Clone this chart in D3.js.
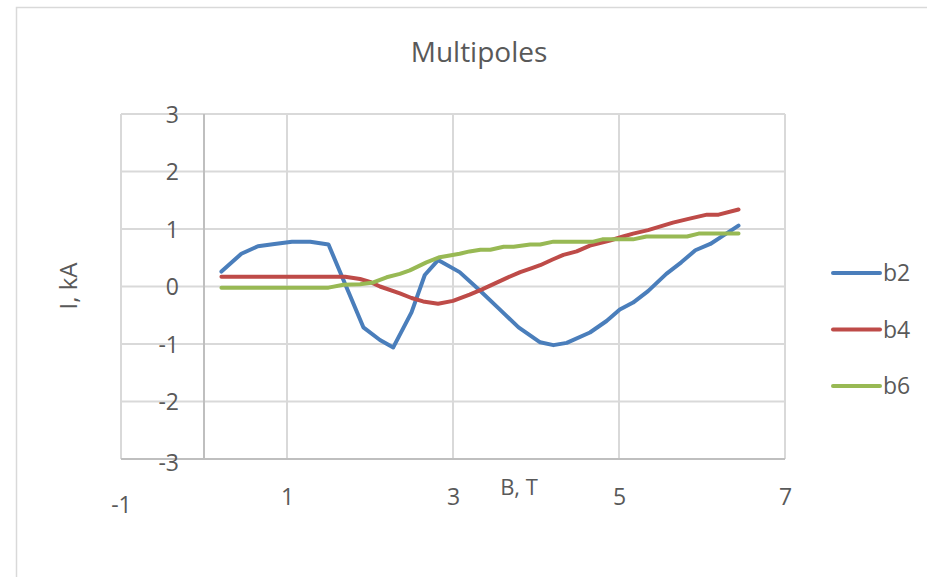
<!DOCTYPE html>
<html>
<head>
<meta charset="utf-8">
<script src="https://cdnjs.cloudflare.com/ajax/libs/d3/7.8.5/d3.min.js"></script>
<style>
  html, body { margin: 0; padding: 0; background: #fff; }
  svg { display: block; font-family: "Open Sans", sans-serif; }
  .lbl { fill: #595959; }
</style>
</head>
<body>
<svg id="chart" width="927" height="577"></svg>
<script>
// Multipoles: b2, b4, b6 current vs field.
var seriesNames = ['b2', 'b4', 'b6'];
var seriesColors = ['#4a7ebb', '#be4b48', '#98b954'];

var b2B = [0.21, 0.45, 0.65, 0.85, 1.06, 1.28, 1.50, 1.92, 2.12, 2.28, 2.50, 2.66, 2.82, 3.08, 3.33, 3.55, 3.79, 4.05, 4.21, 4.37, 4.65, 4.85, 5.01, 5.17, 5.35, 5.57, 5.75, 5.92, 6.10, 6.25, 6.44];
var b2I = [0.26, 0.57, 0.70, 0.74, 0.78, 0.78, 0.73, -0.71, -0.93, -1.06, -0.45, 0.20, 0.46, 0.25, -0.08, -0.38, -0.71, -0.97, -1.02, -0.98, -0.80, -0.60, -0.40, -0.28, -0.08, 0.22, 0.42, 0.63, 0.74, 0.88, 1.06];

var b4B = [0.21, 0.45, 0.65, 0.85, 1.06, 1.28, 1.50, 1.70, 1.88, 2.00, 2.12, 2.36, 2.50, 2.64, 2.82, 3.00, 3.20, 3.35, 3.50, 3.65, 3.81, 3.95, 4.05, 4.20, 4.33, 4.49, 4.65, 4.89, 5.05, 5.17, 5.35, 5.49, 5.65, 5.85, 6.06, 6.20, 6.44];
var b4I = [0.17, 0.17, 0.17, 0.17, 0.17, 0.17, 0.17, 0.17, 0.13, 0.08, 0.00, -0.12, -0.20, -0.26, -0.30, -0.25, -0.14, -0.05, 0.05, 0.15, 0.25, 0.32, 0.37, 0.47, 0.55, 0.61, 0.71, 0.80, 0.87, 0.92, 0.98, 1.04, 1.11, 1.18, 1.25, 1.25, 1.34];

var b6B = [0.21, 0.45, 0.65, 0.85, 1.06, 1.28, 1.50, 1.68, 1.88, 2.04, 2.20, 2.36, 2.48, 2.68, 2.84, 3.08, 3.20, 3.33, 3.45, 3.61, 3.73, 3.93, 4.05, 4.21, 4.45, 4.69, 4.80, 5.17, 5.33, 5.60, 5.82, 5.96, 6.44];
var b6I = [-0.02, -0.02, -0.02, -0.02, -0.02, -0.02, -0.02, 0.03, 0.04, 0.07, 0.16, 0.22, 0.28, 0.42, 0.51, 0.57, 0.61, 0.64, 0.64, 0.69, 0.69, 0.73, 0.73, 0.78, 0.78, 0.78, 0.82, 0.82, 0.87, 0.87, 0.87, 0.92, 0.92];

var xTicks = [-1, 1, 3, 5, 7];
var yTicks = [-3, -2, -1, 0, 1, 2, 3];

(function () {
    var svg = d3.select('#chart');
    var data = [
        { name: seriesNames[0], color: seriesColors[0], B: b2B, I: b2I },
        { name: seriesNames[1], color: seriesColors[1], B: b4B, I: b4I },
        { name: seriesNames[2], color: seriesColors[2], B: b6B, I: b6I }
    ];
    // plain hyphen for negatives, as in the source sheet
    var fmt = function (d) { return String(d); };

    // chart frame
    svg.append('rect')
        .attr('x', 16.5).attr('y', 7.5).attr('width', 940).attr('height', 600)
        .attr('fill', 'none').attr('stroke', '#d9d9d9').attr('stroke-width', 1.5);

    var x = d3.scaleLinear().domain([-1, 7]).range([121, 785]);
    var y = d3.scaleLinear().domain([-3, 3]).range([459, 114]);

    // grid
    var grid = svg.append('g');
    yTicks.forEach(function (v) {
        grid.append('line')
            .attr('x1', x(-1)).attr('x2', x(7))
            .attr('y1', y(v)).attr('y2', y(v))
            .attr('stroke', '#d9d9d9').attr('stroke-width', 2);
    });
    xTicks.forEach(function (v) {
        grid.append('line')
            .attr('x1', x(v)).attr('x2', x(v))
            .attr('y1', y(3)).attr('y2', y(-3))
            .attr('stroke', '#d9d9d9').attr('stroke-width', 2);
    });
    // axis lines: vertical at B = 0, horizontal at I = -3
    svg.append('line')
        .attr('x1', x(0)).attr('x2', x(0)).attr('y1', y(3)).attr('y2', y(-3))
        .attr('stroke', '#bfbfbf').attr('stroke-width', 2);
    svg.append('line')
        .attr('x1', x(-1)).attr('x2', x(7)).attr('y1', y(-3)).attr('y2', y(-3))
        .attr('stroke', '#bfbfbf').attr('stroke-width', 2);

    // tick labels
    var ay = svg.append('g')
        .attr('transform', 'translate(' + (x(0) - 25) + ',0)')
        .call(d3.axisLeft(y).tickValues(yTicks).tickFormat(fmt).tickSize(0).tickPadding(0));
    ay.attr('font-family', null).attr('font-size', 23);
    ay.select('.domain').remove();
    ay.selectAll('text').attr('class', 'lbl').attr('fill', null).attr('dy', '0.36em')
        .attr('transform', function (d) { return d === -3 ? 'translate(0,3)' : null; });

    var ax = svg.append('g')
        .attr('transform', 'translate(0,' + 497 + ')')
        .call(d3.axisBottom(x).tickValues(xTicks).tickFormat(fmt).tickSize(0).tickPadding(0));
    ax.attr('font-family', null).attr('font-size', 23);
    ax.select('.domain').remove();
    ax.selectAll('text').attr('class', 'lbl').attr('fill', null).attr('dy', '0.36em')
        .attr('y', function (d) { return d === -1 ? 8 : 0; });

    // titles
    svg.append('text').attr('class', 'lbl')
        .attr('x', 479).attr('y', 52).attr('dy', '0.36em')
        .attr('text-anchor', 'middle').attr('font-size', 28)
        .text('Multipoles');
    svg.append('text').attr('class', 'lbl')
        .attr('x', 519).attr('y', 487).attr('dy', '0.36em')
        .attr('text-anchor', 'middle').attr('font-size', 22)
        .text('B, T');
    svg.append('text').attr('class', 'lbl')
        .attr('transform', 'translate(68,286) rotate(-90)')
        .attr('dy', '0.36em')
        .attr('text-anchor', 'middle').attr('font-size', 24)
        .text('I, kA');

    // series
    var line = d3.line()
        .x(function (d) { return x(d[0]); })
        .y(function (d) { return y(d[1]); });
    data.forEach(function (s) {
        var pts = s.B.map(function (b, i) { return [b, s.I[i]]; });
        svg.append('path')
            .datum(pts)
            .attr('fill', 'none')
            .attr('stroke', s.color)
            .attr('stroke-width', 4)
            .attr('stroke-linejoin', 'round')
            .attr('stroke-linecap', 'round')
            .attr('d', line);
    });

    // legend
    var leg = svg.append('g').attr('transform', 'translate(833,273)');
    data.forEach(function (s, i) {
        var g = leg.append('g').attr('transform', 'translate(0,' + (i * 56.5) + ')');
        g.append('line').attr('x1', 0).attr('x2', 47).attr('y1', 0).attr('y2', 0)
            .attr('stroke', s.color).attr('stroke-width', 4).attr('stroke-linecap', 'round');
        g.append('text').attr('class', 'lbl')
            .attr('x', 50).attr('y', 0).attr('dy', '0.36em')
            .attr('font-size', 23).text(s.name);
    });
})();
</script>
</body>
</html>
